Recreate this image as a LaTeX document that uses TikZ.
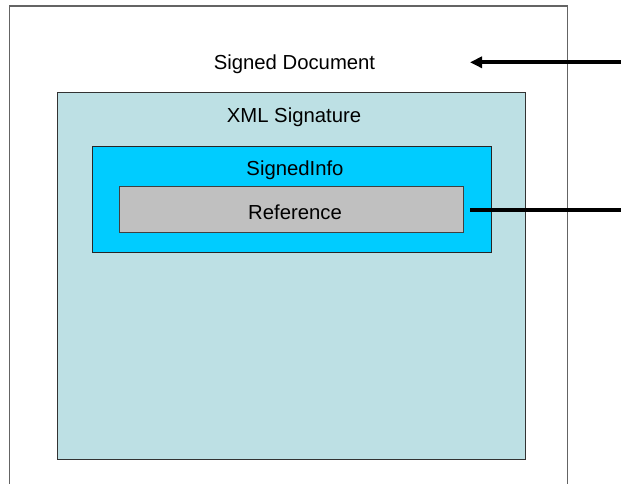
\documentclass[tikz,border=0pt]{standalone}
\usepackage{fontspec}
\setmainfont{Liberation Sans}
\usetikzlibrary{arrows.meta}
\definecolor{docgray}{RGB}{100,100,100}
\definecolor{sigfill}{RGB}{189,224,228}
\definecolor{infofill}{RGB}{0,204,255}
\definecolor{reffill}{RGB}{192,192,192}
\begin{document}
\begin{tikzpicture}[x=1pt,y=-1pt,
  boxstyle/.style={draw, rectangle, inner sep=0pt, anchor=north west, line width=1pt},
  lbl/.style={font=\fontsize{20.3}{24}\selectfont, inner sep=0pt},
  thickline/.style={line width=3.8pt}]
\useasboundingbox (0,0) rectangle (621,484);
\fill[white] (0,0) rectangle (621,484);
\node[boxstyle, draw=docgray, line width=1.5pt, minimum width=558pt, minimum height=500pt] (doc) at (8.7,5.5) {};
\node[boxstyle, fill=sigfill, draw=black!80, minimum width=468.3pt, minimum height=367pt] (sig) at (56.7,92.3) {};
\node[boxstyle, fill=infofill, draw=black!85, minimum width=399pt, minimum height=106.6pt] (info) at (91.7,145.7) {};
\node[boxstyle, fill=reffill, draw=black!75, minimum width=344pt, minimum height=46.6pt] (ref) at (119.3,185.7) {};
\node[lbl] (doclbl) at (294.5,64.5) {Signed Document};
\node[lbl] (siglbl) at (294,117.5) {XML Signature};
\node[lbl] (infolbl) at (295,170.5) {SignedInfo};
\node[lbl] (reflbl) at (295,212.5) {Reference};
\coordinate (arrstart) at (621,62.3);
\coordinate (arrend) at (470,62.3);
\coordinate (lineend) at (621,210);
\coordinate (linestart) at (470,210);
\draw[thickline, -{Triangle[length=12pt,width=11pt]}] (arrstart) -- (arrend);
\draw[thickline] (linestart) -- (lineend);
\end{tikzpicture}
\end{document}
